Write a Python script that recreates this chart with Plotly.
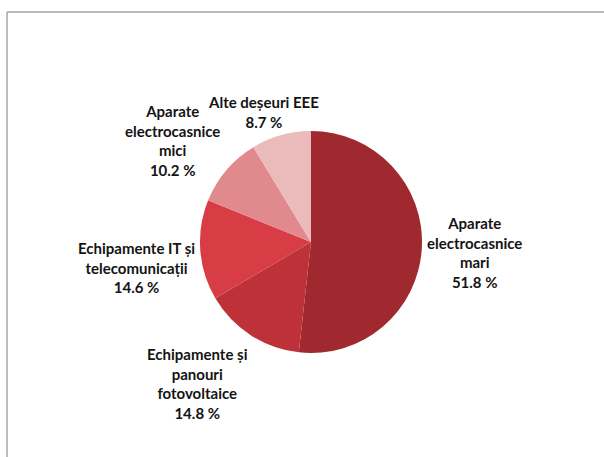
import plotly.graph_objects as go

# date din grafic
categorii = [
    "Aparate<br>electrocasnice<br>mari",
    "Echipamente și<br>panouri<br>fotovoltaice",
    "Echipamente IT și<br>telecomunicații",
    "Aparate<br>electrocasnice<br>mici",
    "Alte deșeuri EEE",
]
procente = [51.8, 14.8, 14.6, 10.2, 8.7]
culori = ["#A0282F", "#BE3138", "#D83C44", "#E08A8D", "#EBBBBC"]

# pozitiile etichetelor (pixeli in fereastra 604x457)
W, H = 604, 457
pozitii = [(474, 252), (197, 383), (136, 267), (172, 140), (263, 112)]

fig = go.Figure()

fig.add_trace(go.Pie(
    labels=categorii,
    values=procente,
    sort=False,
    direction="clockwise",
    rotation=0,
    marker=dict(colors=culori, line=dict(width=0)),
    textinfo="none",
    hoverinfo="label+value",
    domain=dict(x=[200 / W, 422 / W], y=[(H - 353) / H, (H - 131) / H]),
    showlegend=False,
))

for cat, val, (px_, py_) in zip(categorii, procente, pozitii):
    fig.add_annotation(
        x=px_ / W, y=1 - py_ / H, xref="paper", yref="paper",
        text=f"<b>{cat}<br>{val} %</b>",
        showarrow=False, align="center",
        xanchor="center", yanchor="middle",
        font=dict(family="Lato", size=15, color="#141414"),
    )

# chenarul graficului
fig.add_shape(type="line", xref="paper", yref="paper",
              x0=7 / W, x1=1, y0=1 - 12 / H, y1=1 - 12 / H,
              line=dict(color="#A6A6A6", width=1.5))
fig.add_shape(type="line", xref="paper", yref="paper",
              x0=7 / W, x1=7 / W, y0=0, y1=1 - 12 / H,
              line=dict(color="#A6A6A6", width=1.5))

fig.update_layout(
    width=W, height=H,
    margin=dict(l=0, r=0, t=0, b=0),
    paper_bgcolor="white",
    plot_bgcolor="white",
)

fig.write_html(
    "out.html",
    config={"displayModeBar": False},
    post_script="document.body.style.margin='0';document.body.style.overflow='hidden';",
)
